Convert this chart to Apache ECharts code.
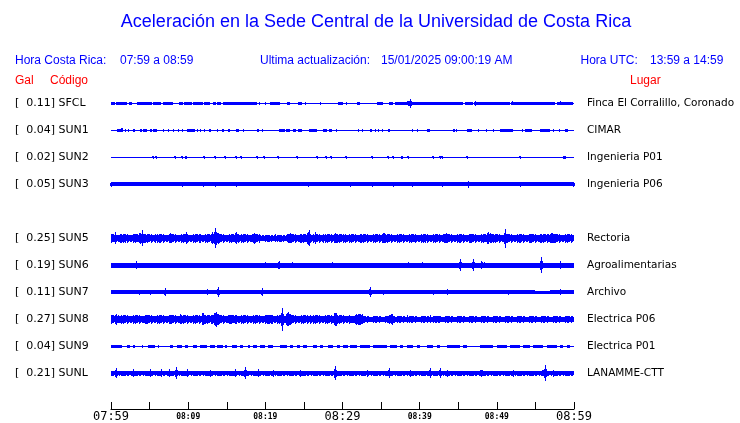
<!DOCTYPE html>
<html><head><meta charset="utf-8">
<script src="https://cdn.jsdelivr.net/npm/echarts@6/dist/echarts.min.js"></script>
<style>html,body{margin:0;padding:0;background:#fff}#c{width:740px;height:423px}</style>
</head><body><div id="c"></div>
<script>
// ---- station metadata ----
const codes   = ['SFCL','SUN1','SUN2','SUN3','SUN5','SUN6','SUN7','SUN8','SUN9','SUNL'];
const peakGal = [0.11, 0.04, 0.02, 0.05, 0.25, 0.19, 0.11, 0.27, 0.04, 0.21];
const places  = ['Finca El Corralillo, Coronado','CIMAR','Ingenieria P01','Ingenieria P06',
                 'Rectoria','Agroalimentarias','Archivo','Electrica P06','Electrica P01','LANAMME-CTT'];
const rowOf   = [0,1,2,3,5,6,7,8,9,10];   // SUN4 row is empty
// time axis (minutes after 07:59)
const tickMinutes = [0,10,20,30,40,50,60];
const tickLabels  = ['07:59','08:09','08:19','08:29','08:39','08:49','08:59'];
const majorTicks  = [0,30,60];
// ---- traces (amp in 0.01 Gal, time in minutes) ----
// band segments [t0,t1,amp], bursts [t0,t1,amp], spikes [t,amp]
const SFCL_SEG = [[0,60,1.2],[0,0.5,4],[0.65,1.55,4],[1.6,2.05,4],[2.3,2.7,4],[3.4,5.3,4],[5.4,6.5,4],[6.7,8.0,4],
  [8.8,9.3,4],[9.5,10.5,4],[10.6,11.1,4],[11.2,11.9,4],[12.0,12.8,4],[13.2,13.6,4],[13.8,14.3,4],[14.5,18.9,4],
  [20.6,21.9,4],[22.8,23.2,4],[24.2,24.7,4],[29.4,30.1,4],[31.9,32.3,4],[34.5,35.2,4],[36.0,36.5,4],[36.8,38.5,4],
  [38.7,45.6,4],[45.9,46.9,4],[47.4,51.7,4],[52.1,57.5,4],[57.8,59.9,4]];
const SFCL_BST = [[38.2,39.2,7]];
const SFCL_SPK = [[19.2,3],[20.0,3],[25.1,3],[27.1,3],[30.5,3],[38.7,11],[47.2,6],[48.5,4.5],[52.0,5],[58.2,5]];
const SUN1_SEG = [[0,60,1.2],[0.78,1.55,3.8],[1.3,1.5,5],[1.75,1.9,3.8],[2.15,2.3,3.8],[2.85,3.1,3.8],[3.75,4.0,3.8],
  [4.15,4.67,3.8],[5.05,5.3,3.8],[5.45,5.96,3.8],[6.7,6.85,3.8],[7.35,7.5,3.8],[8.0,8.15,3.8],[8.65,8.8,3.8],
  [9.15,9.3,3.8],[9.85,10.9,3.8],[11.1,11.25,3.8],[11.5,11.65,3.8],[12.0,12.15,3.8],[12.7,12.96,3.8],[13.7,13.85,3.8],
  [14.38,14.64,3.8],[15.16,15.42,3.8],[16.2,16.6,3.8],[17.1,17.25,3.8],[18.92,19.18,3.8],[19.55,19.7,3.8],
  [21.77,22.6,3.8],[22.7,23.2,3.8],[23.58,24.0,3.8],[24.2,24.75,3.8],[25.66,26.69,3.8],[27.47,28.0,3.8],
  [28.2,28.64,3.8],[29.1,29.25,3.8],[32.0,32.15,3.8],[32.5,32.65,3.8],[33.57,33.83,3.8],[34.2,34.35,3.8],
  [34.6,34.75,3.8],[35.1,35.25,3.8],[35.9,36.16,3.8],[39.0,39.13,3.8],[39.65,39.8,3.8],[40.95,41.34,3.8],
  [44.32,44.6,3.8],[44.75,44.9,3.8],[46.13,46.78,3.8],[47.5,47.65,3.8],[48.55,48.7,3.8],[49.45,49.6,3.8],
  [50.4,52.1,3.8],[53.26,53.4,3.8],[53.65,54.55,3.8],[55.6,56.9,3.8],[57.25,57.4,3.8],[58.0,58.15,3.8],[58.8,59.2,3.8]];
const SUN1_BST = [];
const SUN1_SPK = [];
const SUN2_SEG = [[0,60,1.2],[9.6,9.85,3],[37.6,37.9,3],[58.6,58.9,3]];
const SUN2_BST = [];
const SUN2_SPK = [[5.44,4],[5.83,4],[8.29,4],[9.2,4],[12.05,4],[13.48,4],[14.77,4],[16.2,4],[16.85,4],[18.92,4],
  [19.83,4],[21.64,4],[24.1,4],[26.69,4],[27.86,4],[28.51,4],[30.46,4],[33.83,4],[35.9,4],[36.55,4],[38.5,4],
  [41.73,4],[42.63,4],[42.89,4],[46.13,4],[53.0,4]];
const SUN3_SEG = [[0,60,5]];
const SUN3_BST = [];
const SUN3_SPK = [[0.05,7],[9.2,7],[11.92,7],[13.48,7],[16.2,7],[25.53,7],[31.0,7],[33.83,7],[36.55,7],[39.0,7],
  [42.89,7],[46.26,9],[53.0,7],[59.9,7]];
const SUN5_SEG = [[0,19.3,10.5],[19.3,22.8,9],[22.8,60,10.5]];
const SUN5_BST = [[2.6,4.9,14],[7.4,8.1,13],[12.6,14.4,17],[15.6,16.9,15],[18.2,19.1,13],[22.6,23.8,13],[25.2,26.0,17],
  [28.6,29.5,13],[34.7,35.9,13],[38.6,39.8,13],[42.8,44.1,13],[48.0,49.7,15],[56.3,58.0,13]];
const SUN5_SPK = [[0.5,15],[1.17,12],[1.8,12],[4.0,20],[5.7,12],[6.35,12],[9.7,15],[10.9,12],[11.5,12],[13.48,25],
  [17.6,12],[21.25,10],[24.5,12],[25.6,20],[26.43,15],[27.5,12],[30.3,12],[32.3,12],[37.06,12],[40.7,12],
  [45.2,12],[46.5,12],[51.06,23],[53.0,12],[54.3,12],[55.6,12],[58.8,12]];
const SUN6_SEG = [[0,60,5.5]];
const SUN6_BST = [[4.5,5.0,8],[21.5,22.0,9],[38.3,38.9,8],[47.8,48.8,9]];
const SUN6_SPK = [[3.24,10],[19.96,7.5],[21.75,10],[23.45,7.5],[28.64,7.5],[32.66,7],[37.06,7],[38.5,7.5],
  [40.3,7.5],[45.22,15],[46.9,15],[48.0,10],[55.7,20],[58.18,10]];
const SUN7_SEG = [[0,54.9,4.6],[54.9,56.9,3],[56.9,60,4.6]];
const SUN7_BST = [];
const SUN7_SPK = [[3.63,6],[5.05,6],[7.0,10],[12.44,7.5],[13.87,12.5],[19.6,10],[33.56,12.5],[35.25,6],
  [41.73,6],[43.54,7.5],[51.44,6],[58.18,7.5]];
const SUN8_SEG = [[0,31,10.5],[31,60,8.5]];
const SUN8_BST = [[0,1.4,13],[4.0,5.6,12],[11.6,12.2,17.5],[13.0,14.3,17.5],[14.8,16.9,13],[20.0,21.2,15],
  [22.4,23.6,17.5],[28.6,29.6,17.5],[30.8,33.3,15],[35.6,36.9,15]];
const SUN8_SPK = [[7.65,12],[8.94,12.5],[10.63,12],[13.6,19],[18.4,12],[22.16,28],[25.8,12],[38.36,10],[41.34,10],[42.37,9]];
const SUN9_SEG = [[0,60,1.2],[0,1.42,3.2],[2.07,2.46,3.2],[2.85,3.11,3.2],[4.02,4.15,3.2],[4.79,5.7,3.2],[6.05,6.2,3.2],
  [7.65,8.03,3.2],[8.55,9.2,3.2],[9.59,9.98,3.2],[10.63,11.14,3.2],[11.53,12.44,3.2],[12.83,13.48,3.2],
  [13.74,14.51,3.2],[14.77,15.03,3.2],[15.68,16.33,3.2],[16.72,17.1,3.2],[17.75,18.01,3.2],[18.4,18.92,3.2],
  [19.31,19.96,3.2],[20.34,20.99,3.2],[21.9,22.81,3.2],[23.2,23.58,3.2],[24.1,24.49,3.2],[24.88,25.4,3.2],
  [26.18,26.69,3.2],[27.08,27.47,3.2],[28.12,28.77,3.2],[29.29,29.67,3.2],[30.06,30.71,3.2],[30.97,31.88,3.2],
  [32.27,33.56,3.2],[33.95,35.77,3.2],[36.16,37.06,3.2],[37.45,37.84,3.2],[38.36,39.13,3.2],[39.65,40.04,3.2],
  [40.95,41.73,3.2],[42.24,42.63,3.2],[43.54,45.22,3.2],[45.61,46.13,3.2],[47.82,49.5,3.2],[50.02,51.31,3.2],
  [51.7,53.0,3.2],[53.39,54.3,3.2],[54.68,55.98,3.2],[56.5,57.8,3.2],[58.18,58.57,3.2],[59.09,59.48,3.2]];
const SUN9_BST = [];
const SUN9_SPK = [];
const SUNL_SEG = [[0,60,7]];
const SUNL_BST = [[0.4,0.9,11],[35.8,36.3,10],[47.7,48.3,9],[55.9,56.6,13]];
const SUNL_SPK = [[0.65,12.5],[2.8,10],[5.05,10],[6.48,10],[7.52,10],[8.42,15],[9.85,10],[12.83,8.5],[16.07,10],
  [17.36,15],[19.1,10],[21.0,8.5],[24.5,8.5],[29.03,17.5],[33.17,8.5],[36.0,12.5],[38.75,8.5],[41.34,12.5],
  [42.63,12.5],[43.54,8.5],[48.0,8.5],[52.1,8.5],[56.25,20],[57.3,8.5]];

const traceSegs = [SFCL_SEG,SUN1_SEG,SUN2_SEG,SUN3_SEG,SUN5_SEG,SUN6_SEG,SUN7_SEG,SUN8_SEG,SUN9_SEG,SUNL_SEG];
const traceBsts = [SFCL_BST,SUN1_BST,SUN2_BST,SUN3_BST,SUN5_BST,SUN6_BST,SUN7_BST,SUN8_BST,SUN9_BST,SUNL_BST];
const traceSpks = [SFCL_SPK,SUN1_SPK,SUN2_SPK,SUN3_SPK,SUN5_SPK,SUN6_SPK,SUN7_SPK,SUN8_SPK,SUN9_SPK,SUNL_SPK];

// ---- build ----
const NROWS = 11;
const ROW_UNITS = 67.5; // amplitude units (0.01 Gal) per row of the trace axis
const leftCats = new Array(NROWS).fill(''), rightCats = new Array(NROWS).fill('');
const items = [];
codes.forEach((c,i)=>{
  const r = rowOf[i];
  leftCats[r] = '[  ' + peakGal[i].toFixed(2) + '] ' + c;
  rightCats[r] = places[i];
  traceSegs[i].forEach(s=>items.push([s[0],s[1],r,s[2],0]));
  traceBsts[i].forEach(s=>items.push([s[0],s[1],r,s[2],1]));
  traceSpks[i].forEach(s=>items.push([s[0],s[0],r,s[1],2]));
});
const BLUE = '#0000ff';
const TEX = [1,0.78,0.92,0.7,1,0.85,0.66,0.95,0.8,0.72,1,0.88]; // edge texture pattern (style)
function col(x, cy, h){ const hh=Math.max(0.5,h); return {type:'rect', shape:{x, y:Math.round(cy-hh), width:1, height:Math.max(1,Math.round(cy+hh)-Math.round(cy-hh))}, style:{fill:BLUE}}; }
function renderItem(params, api){
  const t0=api.value(0), t1=api.value(1), row=api.value(2), a=api.value(3)/ROW_UNITS, kind=api.value(4);
  const pc = api.coord([t0,row]);
  const pa = api.coord([t0,row-a]), pb = api.coord([t1,row+a]);
  const hpx = Math.abs(pb[1]-pa[1])/2, cy = pc[1];
  const x0=Math.round(pa[0]), x1=Math.max(Math.round(pb[0]), Math.round(pa[0])+1);
  if (kind===1){
    const kids=[]; const n=x1-x0;
    for(let x=x0;x<x1;x++){
      const f=(x-x0+0.5)/n; const env=1-0.6*Math.pow(Math.abs(2*f-1),1.5);
      kids.push(col(x, cy, hpx*env*TEX[(x*5)%TEX.length]));
    }
    return {type:'group', children:kids};
  }
  if (kind===2){
    return {type:'group', children:[col(Math.round(pc[0]), cy, hpx), col(Math.round(pc[0])-1, cy, hpx*0.6), col(Math.round(pc[0])+1, cy, hpx*0.5)]};
  }
  if (hpx>=2.8){
    const core=hpx*0.72;
    const kids=[{type:'rect', shape:{x:x0, y:Math.round(cy-core), width:x1-x0, height:Math.round(cy+core)-Math.round(cy-core)}, style:{fill:BLUE}}];
    for(let x=x0;x<x1;x++){ kids.push(col(x, cy, hpx*TEX[(x*7+3)%TEX.length])); }
    return {type:'group', children:kids};
  }
  let y0=Math.round(cy-hpx), y1=Math.round(cy+hpx);
  if (y1-y0<1){ y0=Math.floor(cy); y1=y0+1; }
  return {type:'rect', shape:{x:x0,y:y0,width:x1-x0,height:y1-y0}, style:{fill:BLUE}};
}

const chart = echarts.init(document.getElementById('c'), null, {renderer:'canvas'});
const hdr = {fontFamily:'Liberation Sans', fontSize:12, fill:'#0000ff', textVerticalAlign:'middle'};
const red = {fontFamily:'Liberation Sans', fontSize:12, fill:'#ff0000', textVerticalAlign:'middle'};
function t(x,y,text,st,align){ return {type:'text', x, y, style:Object.assign({text, textAlign:align||'left'}, st)}; }
chart.setOption({
  animation:false,
  backgroundColor:'#fff',
  graphic:[
    t(376,22,'Aceleración en la Sede Central de la Universidad de Costa Rica',
      {fontFamily:'Liberation Sans',fontSize:18,fill:'#0000ff',textVerticalAlign:'middle'},'center'),
    t(15,61,'Hora Costa Rica:',hdr), t(120,61,'07:59 a 08:59',hdr),
    t(260,61,'Ultima actualización:',hdr), t(381,61,'15/01/2025 09:00:19 AM',hdr),
    t(580.5,61,'Hora UTC:',hdr), t(650,61,'13:59 a 14:59',hdr),
    t(15,80.5,'Gal',red), t(50,80.5,'Código',red), t(630,80.5,'Lugar',red)
  ],
  grid:{left:111, right:166, top:89.8, height:297},
  xAxis:{type:'value', min:0, max:60, interval:5, offset:22.2,
    axisLine:{onZero:false, lineStyle:{color:'#000',width:1}},
    axisTick:{inside:true,length:7,lineStyle:{color:'#000'}},
    splitLine:{show:false},
    axisLabel:{margin:8, verticalAlign:'middle', showMinLabel:true, showMaxLabel:true,
      formatter:v=>{const i=tickMinutes.indexOf(v); if(i<0) return '';
        return (majorTicks.indexOf(v)>=0?'{big|':'{small|')+tickLabels[i]+'}';},
      rich:{big:{fontFamily:'DejaVu Sans Mono',fontSize:12,color:'#000'},
            small:{fontFamily:'DejaVu Sans Mono',fontSize:8,fontWeight:'bold',color:'#000'}}}
  },
  yAxis:[
    {type:'value', min:-0.5, max:NROWS-0.5, inverse:true, show:false},
    {type:'category', data:leftCats, inverse:true, position:'left',
      axisLine:{show:false}, axisTick:{show:false}, splitLine:{show:false},
      axisLabel:{align:'left', margin:96, interval:0, fontFamily:'DejaVu Sans', fontSize:11, color:'#000'}},
    {type:'category', data:rightCats, inverse:true, position:'right',
      axisLine:{show:false}, axisTick:{show:false}, splitLine:{show:false},
      axisLabel:{align:'left', margin:13, interval:0, fontFamily:'DejaVu Sans', fontSize:10.5, color:'#000'}}
  ],
  series:[{type:'custom', renderItem, data:items, encode:{x:[0,1], y:2}, yAxisIndex:0, silent:true, clip:false}]
});
</script></body></html>
